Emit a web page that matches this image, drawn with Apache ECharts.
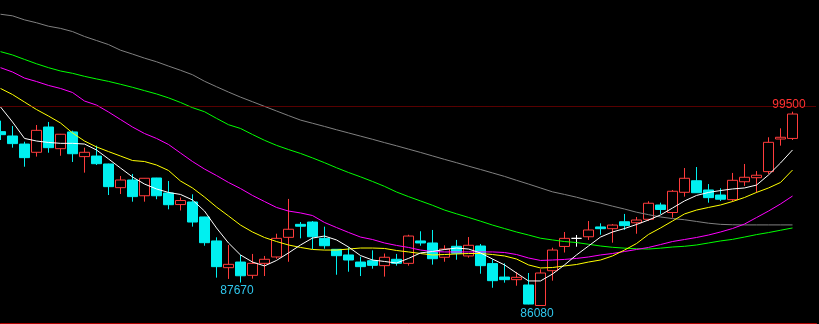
<!DOCTYPE html>
<html>
<head>
<meta charset="utf-8">
<style>
html,body{margin:0;padding:0;background:#000;}
#chart{width:819px;height:324px;}
</style>
<script src="https://cdn.jsdelivr.net/npm/echarts@6/dist/echarts.min.js"></script>
</head>
<body>
<div id="chart"></div>
<script>
// ---- data ----
var days = [];
for (var i = 1; i <= 67; i++) days.push(String(i));

var opens  = [98120,97820,97260,96690,98440,96940,98100,96390,96430,95880,94240,94770,93680,94910,93870,93070,93250,92210,90550,88700,89090,88170,89000,89440,90800,91700,91860,90730,89970,89580,89090,89180,88840,89280,89000,90550,90410,89420,90180,89510,90200,88980,88050,87870,87500,86080,88490,90170,90730,90840,91520,91400,91880,91810,92050,93040,92520,93920,94720,94080,93730,93410,94650,94930,95350,97610,97650];
var closes = [97910,97290,96320,98210,97010,97940,96590,96690,95900,94310,94770,93620,94890,93680,93060,93350,91860,90430,88770,88930,88140,89000,89280,90730,91360,91570,90840,90220,89530,89230,88770,88860,89420,89000,90890,90410,89320,89990,89700,90250,88840,87800,87870,88030,86180,88330,89920,90730,90730,91310,91400,91650,91610,92000,93160,92730,93990,94890,93890,93550,93440,94750,94960,95100,97380,97730,99340];
var lows   = [97540,97010,95690,96390,96660,96450,96020,95280,95810,93730,93800,93270,93270,93440,92740,92660,91540,90220,88010,87920,87670,87940,88120,89320,89110,90730,89990,90010,88210,88420,88120,88630,88080,88840,88840,90220,88910,89110,89250,89390,88280,87310,87660,87450,86160,86080,87800,89750,90150,90620,90980,90430,91310,91050,91930,92420,92160,93620,93880,93200,93320,93270,94360,93890,95190,97150,97540];
var highs  = [98880,98510,97420,98580,98790,97960,98190,97010,97150,95900,95050,95190,94900,94920,94700,93560,93780,92220,90800,90270,89580,89650,89510,91050,93460,91860,91930,91540,89980,90110,89460,89900,89680,89650,90980,91220,91310,90250,90620,90820,90340,89280,89000,88400,88330,88590,90080,91170,90960,91930,91770,91720,92420,92210,93300,93200,94080,95600,95670,94490,94200,95260,95880,95390,97730,98350,99500];

var ma5  = [99830,98790,97650,97470,97370,97310,97310,97260,96850,96230,95600,94980,94490,94150,93910,93770,93390,92620,91450,90410,89580,89090,88820,89200,89720,90270,90750,90890,90620,90130,89540,89230,89130,89020,89340,89720,89820,89960,90060,89990,89720,89300,88890,88330,87780,87780,88260,88890,89580,90200,90820,91170,91410,91690,92000,92350,92830,93320,93700,93910,94040,94150,94220,94420,95120,95950,96850];
var ma10 = [101110,100690,100170,99650,99200,98720,98030,97470,97060,96740,96430,96120,96050,95810,95430,94700,94220,93590,92900,92280,91650,91170,90790,90510,90270,90100,89960,89920,89920,89990,90060,90060,90030,89890,89790,89680,89580,89610,89650,89680,89680,89610,89510,89300,88890,88680,88710,88820,88920,89090,89230,89510,89920,90370,91000,91450,91930,92420,92690,92870,93040,93280,93560,93910,94220,94600,95460];
var ma20 = [102550,102250,101830,101590,101320,101110,100830,100240,99960,99480,98960,98440,97990,97650,97230,96640,96050,95530,95080,94600,94180,93700,93280,92870,92620,92490,92310,91830,91480,91140,90820,90650,90410,90240,90100,89920,89820,89790,89790,89790,89790,89790,89750,89610,89370,89200,89230,89270,89340,89440,89580,89680,89820,89960,90100,90300,90510,90650,90790,90960,91170,91410,91720,92170,92620,93110,93660];
var ma40 = [103660,103430,103120,102820,102550,102320,102160,101950,101770,101600,101400,101190,100960,100730,100460,100140,99780,99500,99040,98600,98340,97920,97520,97170,96880,96610,96300,95970,95620,95290,94990,94670,94330,93940,93620,93320,93020,92690,92430,92180,91920,91650,91410,91170,90960,90740,90620,90510,90440,90320,90200,90110,90050,90010,89990,90050,90130,90180,90270,90410,90550,90660,90820,90990,91130,91290,91450];
var ma60 = [106250,106140,105860,105660,105420,105270,105050,104710,104430,104150,103760,103490,103210,102960,102660,102370,102060,101610,101230,100860,100510,100190,99870,99550,99230,98920,98700,98480,98250,98030,97810,97590,97360,97140,96910,96680,96440,96200,95970,95730,95500,95260,95020,94750,94490,94220,93950,93770,93580,93360,93170,92960,92760,92540,92370,92210,92100,92020,91900,91780,91700,91670,91660,91660,91660,91660,91660];

var refLine = 99900;          // red dotted level line
var highMark = {day: 66, price: 99500};
var lowMarks = [{day: 20, price: 87670}, {day: 45, price: 86080}];
var dojiDays = [48];

// ---- build ----
var pad = 2; // empty slots so the plot reaches the right edge
var cats = days.concat(new Array(pad).fill(''));
var candles = days.map(function (d, i) {
  var v = [opens[i], closes[i], lows[i], highs[i]];
  if (dojiDays.indexOf(i) >= 0) {
    return {value: v, itemStyle: {color: '#ffffff', borderColor: '#ffffff', color0: '#ffffff', borderColor0: '#ffffff'}};
  }
  return v;
});

function lineSeries(name, data, color) {
  return {
    name: name, type: 'line', data: data, symbol: 'none', smooth: false,
    lineStyle: {color: color, width: 1}, z: 3, animation: false, silent: true
  };
}

var chart = echarts.init(document.getElementById('chart'), null, {renderer: 'canvas'});
chart.setOption({
  backgroundColor: '#000000',
  animation: false,
  grid: {left: 0.5, right: 2.5, top: 0, bottom: 1},
  xAxis: {
    type: 'category', data: cats, boundaryGap: false,
    axisLine: {show: true, lineStyle: {color: '#b00000', width: 1}},
    axisTick: {show: false}, axisLabel: {show: false}, splitLine: {show: false}
  },
  yAxis: {
    type: 'value', min: 84868, max: 107236, scale: true,
    axisLine: {show: false}, axisTick: {show: false}, axisLabel: {show: false}, splitLine: {show: false}
  },
  series: [
    {
      type: 'candlestick', data: candles, barWidth: 10, z: 2, animation: false,
      itemStyle: {
        color: 'rgba(0,0,0,0)', color0: '#00f0f0',
        borderColor: '#ff3c3c', borderColor0: '#00f0f0', borderWidth: 1
      },
      markLine: {
        silent: true, symbol: 'none', animation: false,
        label: {show: false},
        lineStyle: {color: '#b00000', type: [1, 1], width: 1},
        data: [{yAxis: refLine}]
      },
      markPoint: {
        silent: true, animation: false, symbol: 'circle', symbolSize: 1,
        itemStyle: {color: 'rgba(0,0,0,0)'},
        data: [
          {coord: [highMark.day, highMark.price], value: highMark.price,
           label: {show: true, position: 'top', distance: 1, offset: [-3.5, 0], color: '#ff3232',
                   fontSize: 12, fontFamily: 'Liberation Sans, Arial, sans-serif', formatter: '{c}'}}
        ].concat(lowMarks.map(function (m) {
          return {coord: [m.day, m.price], value: m.price,
            label: {show: true, position: 'bottom', distance: 2, offset: [-3.5, 0], color: '#30c8ee',
                    fontSize: 12, fontFamily: 'Liberation Sans, Arial, sans-serif', formatter: '{c}'}};
        }))
      }
    },
    lineSeries('MA60', ma60, '#808080'),
    lineSeries('MA40', ma40, '#00ff00'),
    lineSeries('MA20', ma20, '#ff00ff'),
    lineSeries('MA10', ma10, '#ffff00'),
    lineSeries('MA5', ma5, '#ffffff')
  ]
});
</script>
</body>
</html>
